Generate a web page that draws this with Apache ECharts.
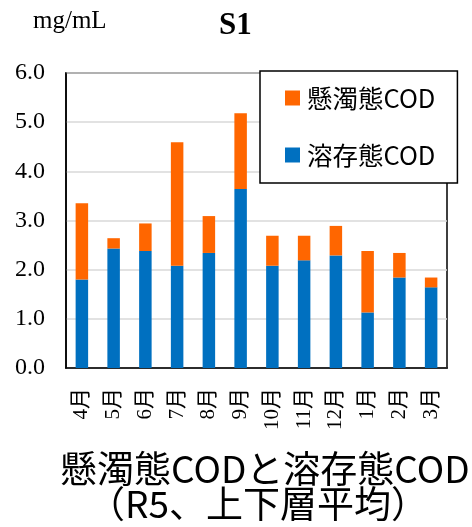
<!DOCTYPE html>
<html><head><meta charset="utf-8">
<script src="https://cdn.jsdelivr.net/npm/echarts@6/dist/echarts.min.js"></script>
<style>html,body{margin:0;padding:0;background:#fff}#c{width:472px;height:527px}</style>
</head><body><div id="c"></div>
<script>
const months = ['4月','5月','6月','7月','8月','9月','10月','11月','12月','1月','2月','3月'];
const dissolved = [1.80, 2.43, 2.38, 2.08, 2.34, 3.64, 2.08, 2.19, 2.29, 1.13, 1.84, 1.64];
const suspended = [1.55, 0.21, 0.56, 2.51, 0.75, 1.54, 0.61, 0.50, 0.60, 1.25, 0.50, 0.20];
const seriesNames = ['溶存態COD', '懸濁態COD'];
const yTicks = [0, 1, 2, 3, 4, 5, 6];
const titleText = 'S1';
const unitText = 'mg/mL';
const captionLines = ['懸濁態CODと溶存態COD', '（R5、上下層平均）'];

const serif = '"Liberation Serif","Times New Roman","Noto Sans CJK JP",serif';
const sans = '"Noto Sans CJK JP","Noto Sans",sans-serif';
const chart = echarts.init(document.getElementById('c'), null, {renderer: 'canvas'});
chart.setOption({
  animation: false,
  backgroundColor: '#fff',
  grid: {left: 66, right: 25, top: 73, bottom: 159, show: true, borderColor: '#000', borderWidth: 1.5, containLabel: false},
  xAxis: {
    type: 'category', data: months,
    axisLine: {lineStyle: {color: '#000', width: 1.5}},
    axisTick: {show: false},
    axisLabel: {rotate: 90, margin: 20, fontSize: 21, color: '#000', fontFamily: serif}
  },
  yAxis: {
    type: 'value', min: yTicks[0], max: yTicks[yTicks.length - 1], interval: 1,
    axisLine: {show: true, lineStyle: {color: '#000', width: 1.5}},
    axisTick: {show: false},
    axisLabel: {margin: 21, fontSize: 24, color: '#000', fontFamily: serif, formatter: v => v.toFixed(1)},
    splitLine: {lineStyle: {color: '#d9d9d9', width: 1.5}}
  },
  legend: {
    orient: 'vertical', left: 260, top: 71,
    data: [seriesNames[1], seriesNames[0]],
    icon: 'rect', itemWidth: 15, itemHeight: 15, itemGap: 31,
    padding: [14, 22, 15, 25],
    backgroundColor: '#fff', borderColor: '#000', borderWidth: 1.5,
    textStyle: {fontSize: 25.5, lineHeight: 26, color: '#000', fontFamily: sans, padding: [0, 0, 0, 2]}
  },
  series: [
    {name: seriesNames[0], type: 'bar', stack: 'a', data: dissolved, barWidth: 12.5,
     itemStyle: {color: '#0070C0'}},
    {name: seriesNames[1], type: 'bar', stack: 'a', data: suspended, barWidth: 12.5,
     itemStyle: {color: '#FF6600'}}
  ],
  graphic: [
    {type: 'text', left: 33, top: 9, style: {text: unitText, fontSize: 25, fill: '#000', fontFamily: serif}},
    {type: 'text', left: 219, top: 10, style: {text: titleText, fontSize: 31, fontWeight: 'bold', fill: '#000', fontFamily: serif}},
    {type: 'text', left: 60, top: 450, style: {text: captionLines[0], fontSize: 37, fill: '#000', fontFamily: sans}},
    {type: 'text', left: 88, top: 485, style: {text: captionLines[1], fontSize: 37, fill: '#000', fontFamily: sans}}
  ]
});
</script></body></html>
